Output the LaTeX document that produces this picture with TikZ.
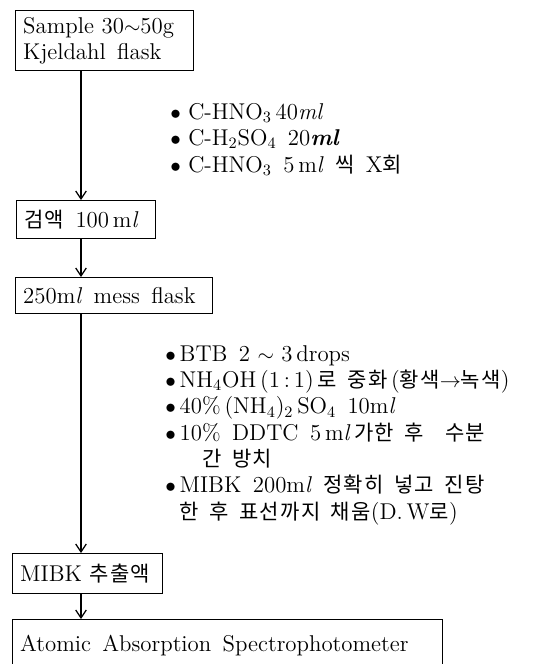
\documentclass[tikz,border=0pt]{standalone}
\usepackage{fontspec}
\newfontfamily\kr[Scale=0.92, LetterSpace=6]{Noto Sans CJK KR}
\usepackage{tikz}
\usetikzlibrary{positioning}
\usetikzlibrary{calc}
\usetikzlibrary{arrows.meta}

\newcommand{\mL}{m\textit{l}}
\newcommand{\fixedlines}{\lineskiplimit -10pt\relax}

\begin{document}
\begin{tikzpicture}[x=0.02cm, y=-0.02cm,
    font=\fontsize{13}{15}\selectfont,
    box/.style={draw, line width=0.8pt, anchor=north west, align=left,
        inner xsep=0.15cm, inner ysep=0pt},
    steps/.style={anchor=north west, align=left, inner sep=0pt,
        font=\fontsize{13}{15}\selectfont\fixedlines},
    flow/.style={line width=0.7pt, -{Straight Barb[length=4.5pt, width=6pt]}}]
    \useasboundingbox (0,0) rectangle (536,664);
    \coordinate (trunk) at (81,0);

    % boxes
    \node[box, text width=3.26cm, minimum height=1.2cm] (sample) at (15,10)
    {Sample 30$\sim$50g\\Kjeldahl\enskip flask};
    \node[box, text width=2.48cm, minimum height=0.76cm] (geom) at (16,200)
    {{\kr 검액}\enskip 100\,\mL};
    \node[box, text width=3.64cm, minimum height=0.72cm] (mess) at (15,277)
    {250\mL\enskip mess\enskip flask};
    \node[box, text width=2.7cm, minimum height=0.8cm] (mibk) at (12,553)
    {\mbox{MIBK {\kr 추출액}}};
    \node[box, text width=8.3cm, minimum height=1.04cm] (aas) at (12,619)
    {Atomic\enskip Absorption\enskip Spectrophotometer};

    % steps beside the arrows
    \node[steps] (acid) at (170,103)
    {$\bullet$~C-HNO$_3$\,40\textit{ml}\\
     $\bullet$~C-H$_2$SO$_4$\enskip 20\textbf{\textit{ml}}\\
     $\bullet$~C-HNO$_3$\enskip 5\,\mL\enskip{\kr 씩}\enskip X{\kr 회}};
    \node[steps] (extract) at (165,345)
    {$\bullet$\,BTB\enskip 2 $\sim$ 3\,drops\\
     $\bullet$\,NH$_4$OH\,(1\,:\,1)\,{\kr 로\enskip 중화}\,({\kr 황색}$\rightarrow${\kr 녹색})\\
     $\bullet$\,40\%\,(NH$_4$)$_2$\,SO$_4$\enskip 10\mL\\
     $\bullet$\,10\%\enskip DDTC\enskip 5\,\mL\,{\kr 가한\enskip 후\quad 수분}\\
     \hspace{21pt}{\kr 간\enskip 방치}\\
     $\bullet$\,MIBK\enskip 200\mL\enskip{\kr 정확히\enskip 넣고\enskip 진탕}\\
     \phantom{$\bullet$\,}{\kr 한\enskip 후\enskip 표선까지\enskip 채움}(D.\,W{\kr 로})};

    % arrows
    \draw[flow] (sample.south -| trunk) -- (geom.north -| trunk);
    \draw[flow] (geom.south -| trunk) -- (mess.north -| trunk);
    \draw[flow] (mess.south -| trunk) -- (mibk.north -| trunk);
    \draw[flow] (mibk.south -| trunk) -- (aas.north -| trunk);
\end{tikzpicture}
\end{document}
